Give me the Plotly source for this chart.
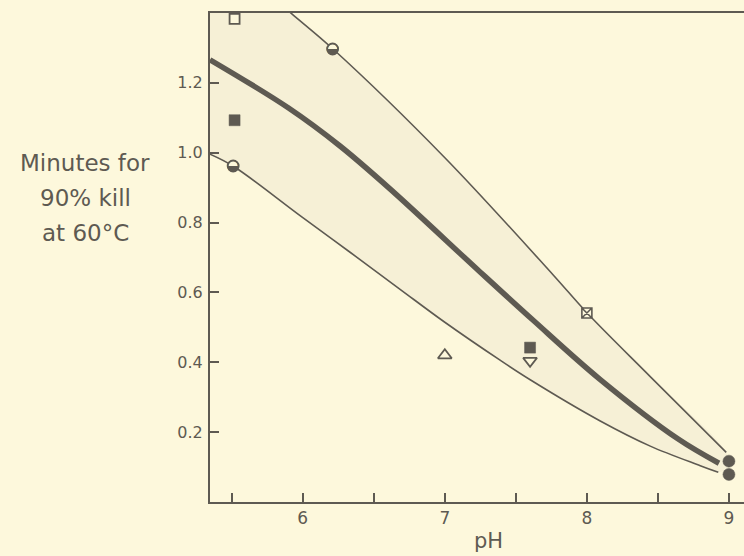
import plotly.graph_objects as go

# ---- data ----
mean_ph = [5.347, 5.90, 6.26, 6.61, 7.25, 7.62, 8.09, 8.64, 8.93]
mean_min = [1.266, 1.128, 1.020, 0.898, 0.658, 0.521, 0.352, 0.181, 0.111]

upper_ph = [5.70, 5.925, 6.213, 7.002, 7.763, 8.002, 8.446, 8.981]
upper_min = [1.475, 1.397, 1.297, 0.985, 0.650, 0.541, 0.359, 0.142]

lower_ph = [5.347, 5.509, 5.981, 6.333, 6.685, 6.995, 7.389, 7.601, 8.094, 8.446, 8.798, 8.925]
lower_min = [0.996, 0.962, 0.820, 0.715, 0.609, 0.516, 0.406, 0.350, 0.232, 0.160, 0.104, 0.085]

open_sq_ph, open_sq_min = [5.52], [1.383]
filled_sq_ph, filled_sq_min = [5.52, 7.60], [1.093, 0.442]
half_circ_ph, half_circ_min = [5.51, 6.21], [0.962, 1.297]
tri_up_ph, tri_up_min = [7.0], [0.42]
tri_dn_ph, tri_dn_min = [7.6], [0.404]
cross_sq_ph, cross_sq_min = [8.0], [0.541]
dot_ph, dot_min = [9.0, 9.0], [0.117, 0.079]

x_ticks = [6, 7, 8, 9]
y_ticks = [0.2, 0.4, 0.6, 0.8, 1.0, 1.2]

BG = "#FDF8DC"
INK = "#5E5A52"
FONT = "DejaVu Sans"

fig = go.Figure()

# shaded band between the envelope curves
band_x = [5.347] + upper_ph + [9.0] + lower_ph[::-1]
band_y = [1.60] + upper_min + [0.10] + lower_min[::-1]
fig.add_trace(go.Scatter(x=band_x, y=band_y, mode="lines", fill="toself",
                         fillcolor="rgba(150,148,135,0.07)",
                         line=dict(width=0, shape="spline"), hoverinfo="skip", showlegend=False))

fig.add_trace(go.Scatter(x=upper_ph, y=upper_min, mode="lines",
                         line=dict(color=INK, width=1.6, shape="spline"), showlegend=False))
fig.add_trace(go.Scatter(x=lower_ph, y=lower_min, mode="lines",
                         line=dict(color=INK, width=1.6, shape="spline"), showlegend=False))
fig.add_trace(go.Scatter(x=mean_ph, y=mean_min, mode="lines",
                         line=dict(color=INK, width=5.5, shape="spline"), showlegend=False))

def mk(x, y, symbol, size, fill, lw=1.8):
    fig.add_trace(go.Scatter(x=x, y=y, mode="markers", showlegend=False,
                             marker=dict(symbol=symbol, size=size, color=fill,
                                         line=dict(color=INK, width=lw))))

mk(open_sq_ph, open_sq_min, "square", 10, BG)
mk(filled_sq_ph, filled_sq_min, "square", 11, INK, 0.5)
mk(tri_up_ph, tri_up_min, "triangle-up", 12, BG)
mk(tri_dn_ph, tri_dn_min, "triangle-down", 12, BG)
mk(cross_sq_ph, cross_sq_min, "square-x", 10, BG, 1.6)
mk(dot_ph, dot_min, "circle", 12, INK, 0.5)
# half-filled circles
mk(half_circ_ph, half_circ_min, "circle", 11, BG, 1.8)
fig.add_trace(go.Scatter(x=half_circ_ph, y=half_circ_min, mode="text", text=["◒"] * len(half_circ_ph),
                         textposition="middle center",
                         textfont=dict(family="DejaVu Sans", size=15, color=INK),
                         showlegend=False))

fig.update_layout(
    width=744, height=556,
    margin=dict(l=210, r=0, t=13, b=54),
    paper_bgcolor=BG, plot_bgcolor=BG,
    font=dict(family=FONT, color=INK, size=16),
    showlegend=False,
)

fig.update_xaxes(range=[5.347, 9.106], tickvals=x_ticks, ticktext=[str(v) for v in x_ticks],
                 ticks="inside", ticklen=9, tickwidth=1.6, tickcolor=INK,
                 minor=dict(tickvals=[5.5, 6.5, 7.5, 8.5], ticks="inside", ticklen=9,
                            tickwidth=1.6, tickcolor=INK),
                 showline=True, linecolor=INK, linewidth=2, mirror=True,
                 showgrid=False, zeroline=False,
                 tickfont=dict(size=17, family=FONT, color=INK))
fig.update_yaxes(range=[0, 1.4], tickvals=y_ticks, ticktext=[f"{v:.1f}" for v in y_ticks],
                 ticks="inside", ticklen=9, tickwidth=1.6, tickcolor=INK,
                 showline=True, linecolor=INK, linewidth=2,
                 showgrid=False, zeroline=False, ticklabelstandoff=2,
                 tickfont=dict(size=16, family=FONT, color=INK))

for txt, yp in [("Minutes for", 0.693), ("90% kill", 0.621), ("at 60°C", 0.551)]:
    fig.add_annotation(text=txt, xref="paper", yref="paper", x=-0.234, y=yp,
                       xanchor="center", yanchor="middle", showarrow=False,
                       font=dict(size=23, family=FONT, color=INK))
fig.add_annotation(text="pH", xref="paper", yref="paper", x=0.521, y=-0.109,
                   xanchor="center", yanchor="bottom", showarrow=False,
                   font=dict(size=21, family=FONT, color=INK))

fig.write_html("out.html", config={"displayModeBar": False},
               post_script="document.body.style.margin='0';document.body.style.background='#FDF8DC';")
